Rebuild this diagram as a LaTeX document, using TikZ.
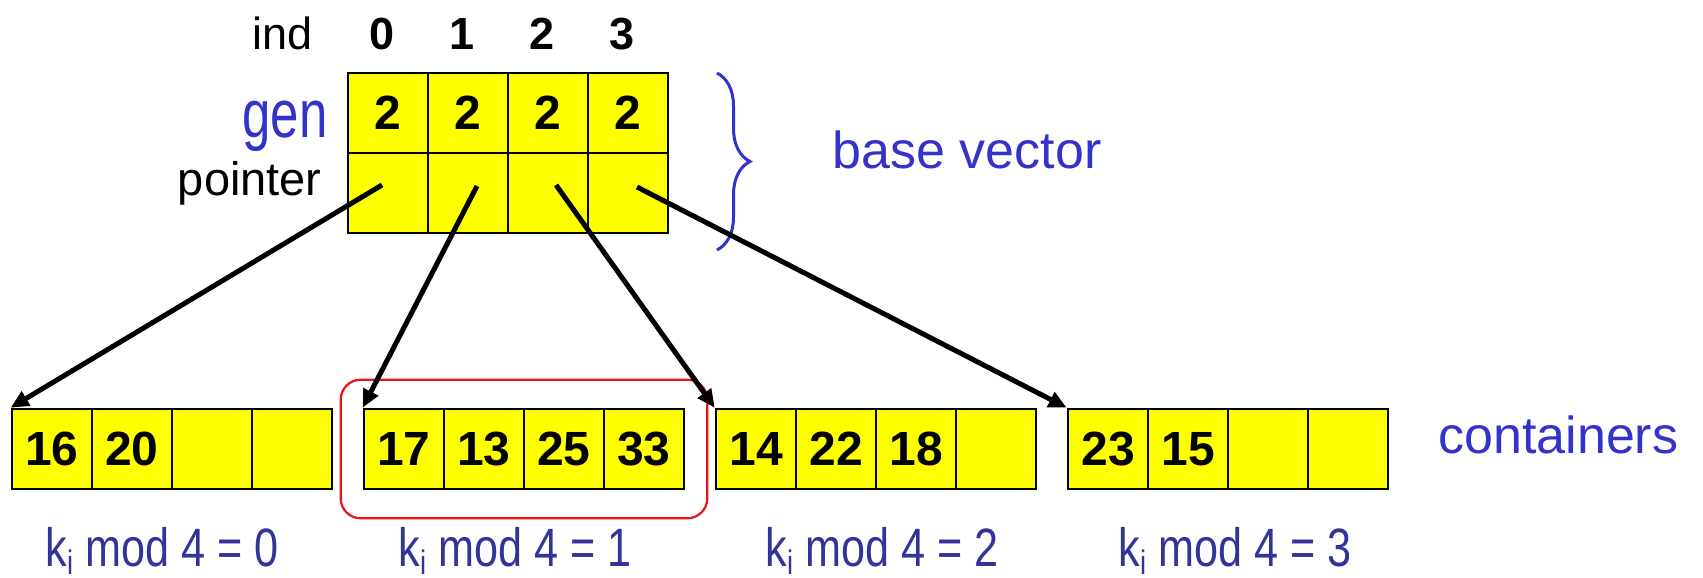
\documentclass[tikz,border=0pt]{standalone}
\usepackage{graphicx}
\usepackage{fontspec}
\setmainfont{Liberation Sans}
\newfontfamily\estreita[FakeStretch=0.8]{Liberation Sans}
\usetikzlibrary{arrows.meta,positioning,fit,decorations.pathreplacing}
\definecolor{azultexto}{RGB}{51,51,204}
\definecolor{azulrotulo}{RGB}{51,51,153}
\definecolor{amarelo}{RGB}{255,255,0}
\definecolor{vermelho}{RGB}{235,20,20}
\newcommand{\indice}{\raisebox{-4pt}{\fontsize{17}{17}\selectfont i}}
\tikzset{
  celula/.style={rectangle,draw=black,fill=amarelo,line width=1.3pt,
    minimum width=40pt,minimum height=40pt,inner sep=0pt,
    font=\fontsize{24}{28}\selectfont\bfseries},
  titulo/.style={inner sep=0pt,anchor=base,font=\fontsize{22.5}{26}\selectfont},
  destaque/.style={inner sep=0pt,anchor=base,text=azultexto,
    font=\fontsize{26}{30}\selectfont},
  rotulo/.style={inner sep=0pt,anchor=base,text=azulrotulo,
    font=\estreita\fontsize{27}{30}\selectfont},
  seta/.style={-{Triangle[length=9pt,width=8pt]},line width=2.5pt,black},
  chave/.style={decorate,decoration={brace,amplitude=16.5pt},
    line width=1.5pt,azultexto},
  grupo/.style={draw=vermelho,line width=1.1pt,rounded corners=10pt,
    inner xsep=11pt,inner ysep=14pt}
}
\begin{document}
\begin{tikzpicture}[x=0.5pt,y=-0.5pt]
  \useasboundingbox (0,0) rectangle (1703,578);
  % base vector
  \node[titulo] (ind) at (283,49) {ind};
  \foreach \i in {0,...,3}
    {\node[titulo,font=\fontsize{22.5}{26}\selectfont\bfseries] (i\i) at ({382+80*\i},49) {\i};
     \node[celula] (g\i) at ({388+80*\i},113) {2};
     \node[celula] (p\i) at ({388+80*\i},193) {};}
  \node[destaque,anchor=base east,font=\fontsize{25.5}{30}\selectfont] (gen) at (328,137)
    {\scalebox{1}[1.33]{gen}};
  \node[titulo,anchor=base east,font=\fontsize{23.5}{27}\selectfont] (pointer) at (322,195) {pointer};
  \coordinate (bt) at (717,73);
  \coordinate (bb) at (717,250);
  \draw[chave] (bt) -- (bb);
  \node[destaque] (basevec) at (967,168) {base vector};
  % containers
  \foreach \c/\lista in {0/{16,20,{},{}},1/{17,13,25,33},2/{14,22,18,{}},3/{23,15,{},{}}}
    {\foreach \v [count=\j from 0] in \lista
      {\node[celula] (c\c-\j) at ({52+352*\c+80*\j},449) {\v};}}
  \node[destaque,anchor=base west] (conts) at (1438,453) {containers};
  \node[grupo,fit=(c1-0)(c1-3)] (selecao) {};
  \foreach \c/\x in {0/162,1/515,2/882,3/1235}
    {\node[rotulo] (rot\c) at (\x,566) {k\indice{} mod 4 = \c};}
  % pointers
  \draw[seta] ([shift={(-6,-8)}]p0.center) -- (c0-0.north west);
  \draw[seta] ([shift={(9,-7)}]p1.center) -- (c1-0.north west);
  \draw[seta] ([shift={(8,-8)}]p2.center) -- (c2-0.north west);
  \draw[seta] ([shift={(9,-6)}]p3.center) -- (c3-0.north west);
\end{tikzpicture}
\end{document}
